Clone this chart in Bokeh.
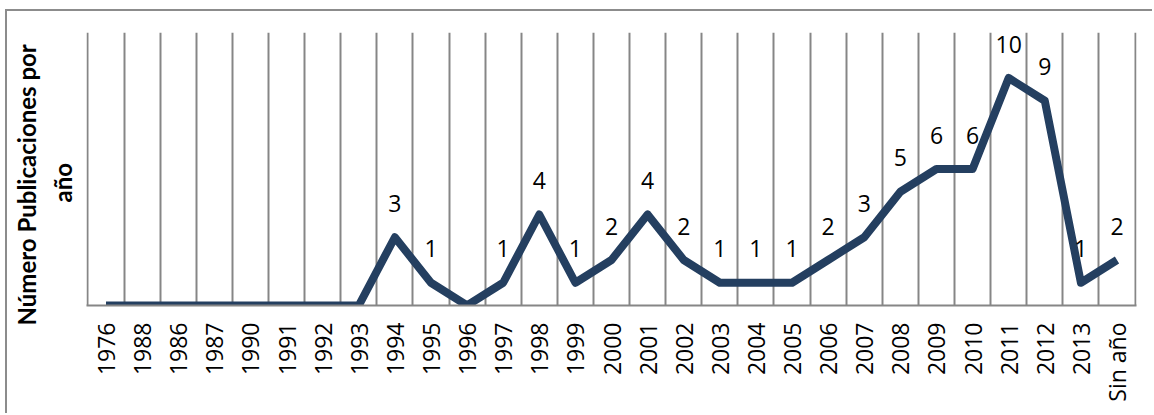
import math
from bokeh.plotting import figure
from bokeh.models import ColumnDataSource, FixedTicker, Title
from bokeh.core.properties import value
from bokeh.embed import file_html
from bokeh.resources import INLINE

years = ["1976", "1988", "1986", "1987", "1990", "1991", "1992", "1993", "1994", "1995",
         "1996", "1997", "1998", "1999", "2000", "2001", "2002", "2003", "2004", "2005",
         "2006", "2007", "2008", "2009", "2010", "2011", "2012", "2013", "Sin año"]
counts = [0, 0, 0, 0, 0, 0, 0, 0, 3, 1,
          0, 1, 4, 1, 2, 4, 2, 1, 1, 1,
          2, 3, 5, 6, 6, 10, 9, 1, 2]
title_lines = ["Número Publicaciones por", "año"]

xs = list(range(len(years)))
src = ColumnDataSource(dict(x=xs, y=counts))
lab_idx = [i for i, c in enumerate(counts) if c > 0]
lab_src = ColumnDataSource(dict(x=[xs[i] for i in lab_idx],
                                y=[counts[i] for i in lab_idx],
                                t=[str(counts[i]) for i in lab_idx]))

FONT = "Open Sans"
TFONT = "Lato"
GRID = "#868686"
LINE = "#243F60"

p = figure(width=1147, height=404, output_backend="svg", toolbar_location=None,
           x_range=(-0.54, len(years) - 0.46), y_range=(0, 12),
           min_border_left=79, min_border_right=18, min_border_top=21, min_border_bottom=110)
p.outline_line_color = None
p.background_fill_color = "white"
p.border_fill_color = "white"
p.styles = {"border-top": "2px solid #8c8c8c", "border-left": "2px solid #8c8c8c",
            "margin-left": "5px", "margin-top": "9px"}

# grid at category boundaries
p.xgrid.ticker = FixedTicker(ticks=[i - 0.5 for i in range(len(years) + 1)])
p.xgrid.grid_line_color = GRID
p.xgrid.grid_line_width = 2
p.ygrid.grid_line_color = None

p.xaxis.ticker = FixedTicker(ticks=xs)
p.xaxis.major_label_overrides = {i: y for i, y in enumerate(years)}
p.xaxis.major_label_orientation = math.pi / 2
p.xaxis.major_label_text_font = FONT
p.xaxis.major_label_text_font_size = "23px"
p.xaxis.major_label_text_color = "black"
p.xaxis.major_label_standoff = 11
p.xaxis.major_tick_line_color = None
p.xaxis.minor_tick_line_color = None
p.xaxis.axis_line_color = GRID
p.xaxis.axis_line_width = 2

p.yaxis.visible = False

# inner line ("año") first, then outer line
p.add_layout(Title(text=title_lines[1], align="left", offset=103, standoff=20, text_font=TFONT,
                   text_font_size="24px", text_font_style="bold", text_color="black"), "left")
p.add_layout(Title(text=title_lines[0], align="left", offset=-20, standoff=-10, text_font=TFONT,
                   text_font_size="24px", text_font_style="bold", text_color="black"), "left")

p.line("x", "y", source=src, line_color=LINE, line_width=8, line_join="round")
p.text("x", "y", text="t", source=lab_src, text_font=value(FONT), text_font_size="23px",
       text_color="black", text_align="center", text_baseline="middle", y_offset=-34)

open("out.html", "w").write(file_html(p, INLINE))
